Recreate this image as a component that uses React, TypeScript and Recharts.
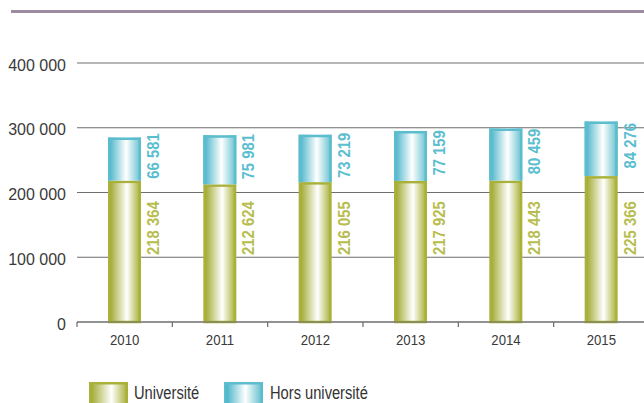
import React from 'react';
import { BarChart, Bar, XAxis, YAxis, CartesianGrid, LabelList } from 'recharts';

const years = ['2010', '2011', '2012', '2013', '2014', '2015'];
const universite = [218364, 212624, 216055, 217925, 218443, 225366];
const horsUniversite = [66581, 75981, 73219, 77159, 80459, 84276];
const yTicks = [0, 100000, 200000, 300000, 400000];
const seriesNames = ['Université', 'Hors université'];

const data = years.map((y, i) => ({ year: y, univ: universite[i], hors: horsUniversite[i] }));

const CHART_W = 660;
const CHART_H = 403;
const MARGIN = { top: 63, right: 11, left: 0, bottom: 51 };
const Y_W = 77;
const PLOT_W = CHART_W - MARGIN.left - MARGIN.right - Y_W;
const BAND = PLOT_W / years.length;

const OLIVE = '#a9b13a';
const CYAN = '#5bbdcd';
const OLIVE_TXT = '#b7bd4e';
const CYAN_TXT = '#5abecf';
const SW = 2.5;
const FONT = "'Liberation Sans', Arial, sans-serif";

const fmt = (n: number) => String(n).replace(/\B(?=(\d{3})+(?!\d))/g, ' ');

const UnivShape = (p: any) => {
  const { x, y, width, height } = p;
  if (!height || height <= 0) return null;
  return (
    <rect x={x + SW / 2} y={y + SW / 2} width={width - SW} height={height - SW / 2}
      fill="url(#gOlive)" stroke={OLIVE} strokeWidth={SW} />
  );
};

const HorsShape = (p: any) => {
  const { x, y, width, height } = p;
  if (!height || height <= 0) return null;
  const l = x + SW / 2, r = x + width - SW / 2, t = y + SW / 2, b = y + height;
  return (
    <g>
      <rect x={x} y={y} width={width} height={height} fill="url(#gCyan)" />
      <path d={`M${l},${b} L${l},${t} L${r},${t} L${r},${b}`} fill="none" stroke={CYAN} strokeWidth={SW} />
    </g>
  );
};

const UnivLabel = (p: any) => {
  const { x, y, width, height, value } = p;
  const cx = x + width + 18;
  const sy = y + height - 67;
  return (
    <text x={0} y={0} transform={`translate(${cx} ${sy}) rotate(-90) scale(0.9 1)`} textAnchor="start"
      fill={OLIVE_TXT} fontFamily={FONT} fontWeight="bold" fontSize={16.5}>
      {fmt(value)}
    </text>
  );
};

const HorsLabel = (p: any) => {
  const { x, y, width, height, value } = p;
  const cx = x + width + 18;
  const sy = y + height / 2 - 3;
  return (
    <text x={0} y={0} transform={`translate(${cx} ${sy}) rotate(-90) scale(0.9 1)`} textAnchor="middle"
      fill={CYAN_TXT} fontFamily={FONT} fontWeight="bold" fontSize={16.5}>
      {fmt(value)}
    </text>
  );
};

const XTick = (p: any) => {
  const { x, y, payload, index } = p;
  const last = index === years.length - 1;
  return (
    <g>
      <line x1={x - BAND / 2} x2={x - BAND / 2} y1={y} y2={y + 5} stroke="#6a6a6a" strokeWidth={1.2} />
      {last && <line x1={x + BAND / 2} x2={x + BAND / 2} y1={y} y2={y + 5} stroke="#6a6a6a" strokeWidth={1.2} />}
      <text x={0} y={0} transform={`translate(${x} ${y + 23}) scale(0.85 1)`} textAnchor="middle" fill="#3a3a3a"
        fontFamily={FONT} fontSize={15.5}>
        {payload.value}
      </text>
    </g>
  );
};

const YTick = (p: any) => {
  const { y, payload } = p;
  return (
    <text x={66} y={y + 7.5} textAnchor="end" fill="#3a3a3a" fontFamily={FONT} fontSize={16}>
      {fmt(payload.value)}
    </text>
  );
};

const Swatch = ({ grad, stroke }: { grad: string; stroke: string }) => (
  <svg width={39} height={24} style={{ display: 'block' }}>
    <rect x={1.25} y={1.25} width={36.5} height={22} fill={`url(#${grad})`} stroke={stroke} strokeWidth={2.5} />
  </svg>
);

const LegendText = ({ text, left }: { text: string; left: number }) => (
  <span style={{ position: 'absolute', left, top: 1, lineHeight: '20px', whiteSpace: 'nowrap',
    transform: 'scaleX(0.815)', transformOrigin: 'left center' }}>{text}</span>
);

export default function App() {
  return (
    <div style={{ position: 'absolute', left: 0, top: 0, width: 644, height: 403, overflow: 'hidden', background: '#fff' }}>
      <div style={{ position: 'absolute', left: 11, top: 10, width: 640, height: 3, background: '#9d8ca1' }} />
      <div style={{ position: 'absolute', left: 0, top: 0 }}>
        <BarChart width={CHART_W} height={CHART_H} data={data} margin={MARGIN} barSize={33}>
          <defs>
            <linearGradient id="gOlive" x1="0" y1="0" x2="1" y2="0">
              <stop offset="0" stopColor="#9ea628" />
              <stop offset="0.58" stopColor="#ffffff" />
              <stop offset="1" stopColor="#aab23a" />
            </linearGradient>
            <linearGradient id="gCyan" x1="0" y1="0" x2="1" y2="0">
              <stop offset="0" stopColor="#3eafc5" />
              <stop offset="0.55" stopColor="#ffffff" />
              <stop offset="1" stopColor="#62bfcd" />
            </linearGradient>
          </defs>
          <CartesianGrid vertical={false} stroke="#6e6e6e" strokeWidth={1.2} />
          <XAxis dataKey="year" height={30} tickLine={false} tickSize={0} tickMargin={0}
            axisLine={{ stroke: '#6e6e6e', strokeWidth: 1.2 }} tick={<XTick />} interval={0} />
          <YAxis width={Y_W} domain={[0, 400000]} ticks={yTicks} axisLine={false} tickLine={false}
            tick={<YTick />} interval={0} />
          <Bar dataKey="univ" stackId="s" isAnimationActive={false} shape={<UnivShape />}>
            <LabelList dataKey="univ" content={<UnivLabel />} />
          </Bar>
          <Bar dataKey="hors" stackId="s" isAnimationActive={false} shape={<HorsShape />}>
            <LabelList dataKey="hors" content={<HorsLabel />} />
          </Bar>
        </BarChart>
      </div>
      <div style={{ position: 'absolute', left: 89, top: 382, width: 400, height: 30,
        fontFamily: FONT, fontSize: 18, color: '#333' }}>
        <div style={{ position: 'absolute', left: 0, top: 0 }}><Swatch grad="gOlive" stroke={OLIVE} /></div>
        <LegendText text={seriesNames[0]} left={45} />
        <div style={{ position: 'absolute', left: 135, top: 0 }}><Swatch grad="gCyan" stroke={CYAN} /></div>
        <LegendText text={seriesNames[1]} left={181} />
      </div>
    </div>
  );
}
